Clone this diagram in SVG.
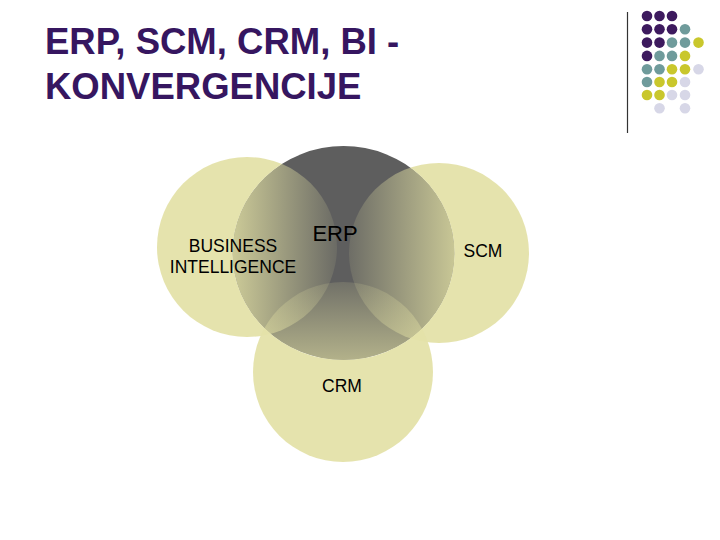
<svg xmlns="http://www.w3.org/2000/svg" width="720" height="540" viewBox="0 0 720 540">
  <style>
    .title { font-family: "Liberation Sans", Arial, sans-serif; font-weight: bold; font-size: 36.5px; fill: #361660; }
    .lbl { font-family: "Liberation Sans", Arial, sans-serif; fill: #000000; text-anchor: middle; }
    .outer { fill: #e4e2a9; fill-opacity: 0.95; }
    .pu { fill: #3d1a5e; }
    .te { fill: #6f9b9b; }
    .ye { fill: #c9c72c; }
    .la { fill: #d7d7e7; }
  </style>
  <defs>
    <clipPath id="inErp">
      <ellipse cx="343.5" cy="253" rx="111" ry="107"/>
    </clipPath>
    <clipPath id="outErp">
      <path clip-rule="evenodd" d="M0 0H720V540H0Z M232.5 253a111 107 0 1 0 222 0a111 107 0 1 0 -222 0Z"/>
    </clipPath>
    <linearGradient id="gBI" gradientUnits="userSpaceOnUse" x1="232" y1="0" x2="337" y2="0">
      <stop offset="0" stop-color="#e0dea2" stop-opacity="0.85"/>
      <stop offset="1" stop-color="#e0dea2" stop-opacity="0.1"/>
    </linearGradient>
    <linearGradient id="gSCM" gradientUnits="userSpaceOnUse" x1="349" y1="0" x2="455" y2="0">
      <stop offset="0" stop-color="#e0dea2" stop-opacity="0.12"/>
      <stop offset="1" stop-color="#e0dea2" stop-opacity="0.82"/>
    </linearGradient>
    <linearGradient id="gCRM" gradientUnits="userSpaceOnUse" x1="0" y1="282" x2="0" y2="360">
      <stop offset="0" stop-color="#e0dea2" stop-opacity="0.15"/>
      <stop offset="1" stop-color="#e0dea2" stop-opacity="0.65"/>
    </linearGradient>
  </defs>

  <rect width="720" height="540" fill="#ffffff"/>

  <g id="title">
    <text class="title" x="45" y="54">ERP, SCM, CRM, BI -</text>
    <text class="title" x="45" y="99">KONVERGENCIJE</text>
  </g>

  <g id="decoration">
    <line x1="627.5" y1="12" x2="627.5" y2="133" stroke="#333333" stroke-width="1.2"/>
    <g>
      <circle class="pu" cx="647" cy="16" r="5.3"/>
      <circle class="pu" cx="659.5" cy="16" r="5.3"/>
      <circle class="pu" cx="672" cy="16" r="5.3"/>

      <circle class="pu" cx="647" cy="29.3" r="5.3"/>
      <circle class="pu" cx="659.5" cy="29.3" r="5.3"/>
      <circle class="pu" cx="672" cy="29.3" r="5.3"/>
      <circle class="te" cx="685" cy="29.3" r="5.3"/>

      <circle class="pu" cx="647" cy="42.6" r="5.3"/>
      <circle class="pu" cx="659.5" cy="42.6" r="5.3"/>
      <circle class="te" cx="672" cy="42.6" r="5.3"/>
      <circle class="te" cx="685" cy="42.6" r="5.3"/>
      <circle class="ye" cx="698.5" cy="42.6" r="5.3"/>

      <circle class="pu" cx="647" cy="55.9" r="5.3"/>
      <circle class="te" cx="659.5" cy="55.9" r="5.3"/>
      <circle class="te" cx="672" cy="55.9" r="5.3"/>
      <circle class="ye" cx="685" cy="55.9" r="5.3"/>

      <circle class="te" cx="647" cy="69.2" r="5.3"/>
      <circle class="te" cx="659.5" cy="69.2" r="5.3"/>
      <circle class="ye" cx="672" cy="69.2" r="5.3"/>
      <circle class="ye" cx="685" cy="69.2" r="5.3"/>
      <circle class="la" cx="698.5" cy="69.2" r="5.3"/>

      <circle class="te" cx="647" cy="82" r="5.3"/>
      <circle class="ye" cx="659.5" cy="82" r="5.3"/>
      <circle class="ye" cx="672" cy="82" r="5.3"/>
      <circle class="la" cx="685" cy="82" r="5.3"/>

      <circle class="ye" cx="647" cy="95" r="5.3"/>
      <circle class="ye" cx="659.5" cy="95" r="5.3"/>
      <circle class="la" cx="672" cy="95" r="5.3"/>
      <circle class="la" cx="685" cy="95" r="5.3"/>

      <circle class="la" cx="659.5" cy="108.3" r="5.3"/>
      <circle class="la" cx="685" cy="108.3" r="5.3"/>
    </g>
  </g>

  <g id="erp">
    <ellipse cx="343.5" cy="253" rx="111" ry="107" fill="#5e5e5e"/>
  </g>

  <g id="bi">
    <circle class="outer" cx="247" cy="247" r="90" clip-path="url(#outErp)"/>
    <circle cx="247" cy="247" r="90" fill="url(#gBI)" clip-path="url(#inErp)"/>
  </g>

  <g id="scm">
    <circle class="outer" cx="439" cy="253" r="90" clip-path="url(#outErp)"/>
    <circle cx="439" cy="253" r="90" fill="url(#gSCM)" clip-path="url(#inErp)"/>
  </g>

  <g id="crm">
    <circle class="outer" cx="343" cy="372" r="90" clip-path="url(#outErp)"/>
    <circle cx="343" cy="372" r="90" fill="url(#gCRM)" clip-path="url(#inErp)"/>
  </g>

  <g id="labels">
    <text id="erp-label" class="lbl" x="335" y="241" font-size="22">ERP</text>
    <text id="bi-label" class="lbl" font-size="17.5"><tspan x="233" y="252">BUSINESS</tspan><tspan x="233" y="273">INTELLIGENCE</tspan></text>
    <text id="scm-label" class="lbl" x="483" y="257" font-size="17.5">SCM</text>
    <text id="crm-label" class="lbl" x="342" y="391.5" font-size="17.5">CRM</text>
  </g>
</svg>
